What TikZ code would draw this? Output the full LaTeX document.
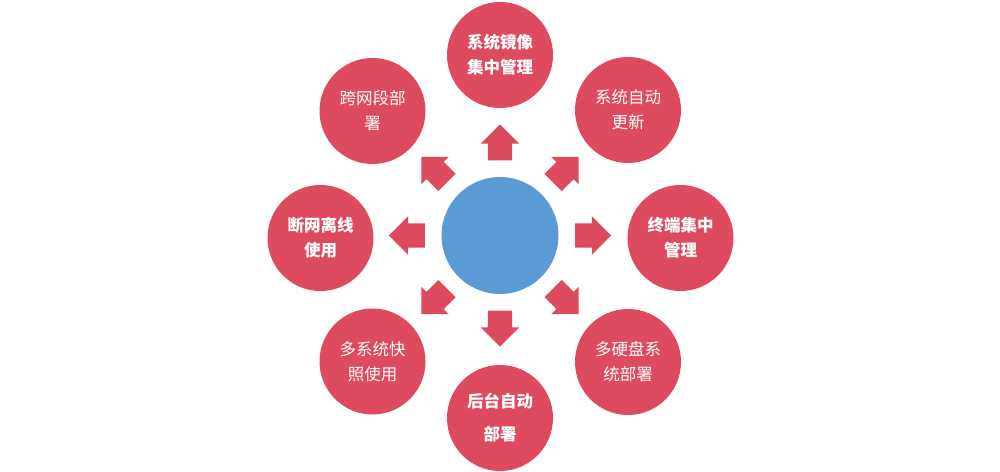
\documentclass[tikz,border=0pt]{standalone}
\usepackage{fontspec}
\newfontfamily\cjk{Noto Sans CJK SC}
\usetikzlibrary{shapes.arrows,calc}
\definecolor{petal}{RGB}{222,74,94}
\definecolor{hub}{RGB}{91,155,213}
\tikzset{
  petalnode/.style={circle, fill=petal, draw=none, minimum size=106pt, inner sep=0pt,
    text=white, align=center, font=\cjk\fontsize{16.5}{25}\selectfont},
  boldtext/.style={font=\cjk\bfseries\fontsize{16.5}{25}\selectfont},
  hubnode/.style={circle, fill=hub, draw=none, minimum size=117pt, inner sep=0pt},
  arr/.style={single arrow, fill=petal, draw=none, inner sep=0pt,
    minimum width=38pt, minimum height=36pt, single arrow head extend=7pt,
    single arrow head indent=0pt, text width=0pt, text height=24pt, anchor=center}
}
\begin{document}
\begin{tikzpicture}[x=1pt,y=1pt]
\useasboundingbox (0,0) rectangle (1000,471);
\node[hubnode] (c) at (500,235.5) {};
\foreach \a [count=\i] in {0,45,90,135,180,225,270,315}{
  \node[arr, rotate=\a] (a\i) at ($(c)+(\a:87)$) {};
}
\node[petalnode, boldtext] (n1) at (500,416) {系统镜像\\集中管理};
\node[petalnode] (n2) at (628,361) {系统自动\\更新};
\node[petalnode, boldtext] (n3) at (680.5,233) {终端集中\\管理};
\node[petalnode] (n4) at (628,109) {多硬盘系\\统部署};
\node[petalnode, boldtext, font=\cjk\bfseries\fontsize{16.5}{33}\selectfont] (n5) at (500,53) {后台自动\\部署};
\node[petalnode] (n6) at (372.5,109.5) {多系统快\\照使用};
\node[petalnode, boldtext] (n7) at (320.5,233) {断网离线\\使用};
\node[petalnode] (n8) at (372.5,360) {跨网段部\\署};
\end{tikzpicture}
\end{document}
